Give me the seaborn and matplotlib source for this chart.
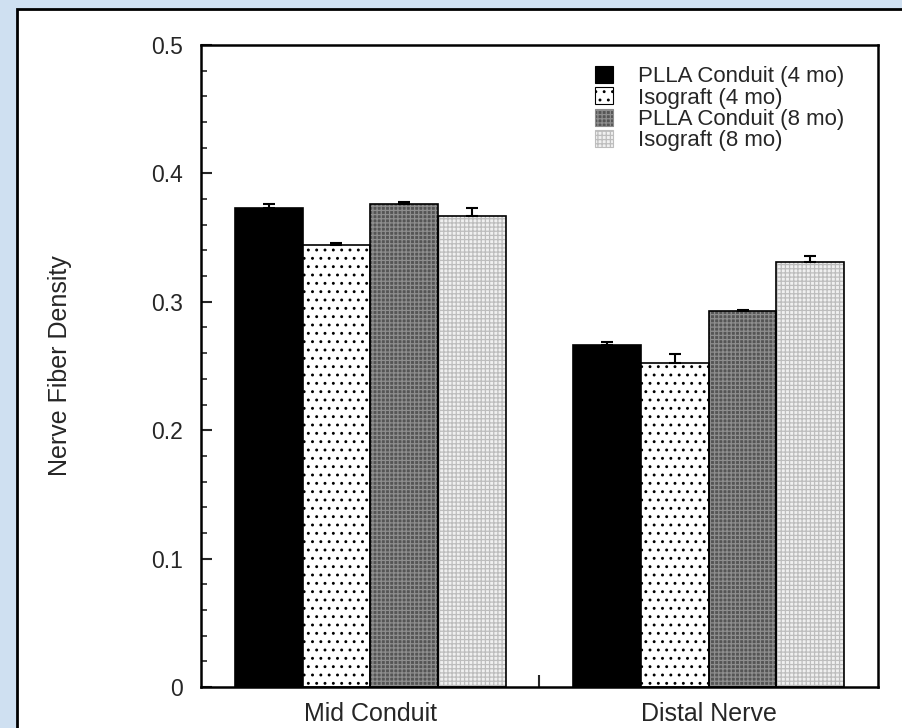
import matplotlib
matplotlib.use("Agg")
import matplotlib.pyplot as plt
import seaborn as sns
import pandas as pd
from matplotlib.patches import Rectangle, Patch
from matplotlib.container import BarContainer
from matplotlib.ticker import MultipleLocator

# ---- data ----
sites = ["Mid Conduit", "Distal Nerve"]
groups = ["PLLA Conduit (4 mo)", "Isograft (4 mo)", "PLLA Conduit (8 mo)", "Isograft (8 mo)"]
mid_vals = [0.373, 0.344, 0.376, 0.367]
distal_vals = [0.266, 0.252, 0.293, 0.331]
mid_err = [0.003, 0.002, 0.002, 0.006]
distal_err = [0.003, 0.007, 0.001, 0.005]
y_ticks = [0, 0.1, 0.2, 0.3, 0.4, 0.5]
y_tick_labels = ["0", "0.1", "0.2", "0.3", "0.4", "0.5"]

# ---- styles ----
face_colors = ["#000000", "#ffffff", "#555555", "#f0f0f0"]
hatches = [None, "..", "++++", "++++"]
hatch_colors = ["#000000", "#000000", "#8e8e8e", "#bdbdbd"]

sns.set_style("white")
plt.rcParams["font.family"] = ["Liberation Sans", "DejaVu Sans"]
plt.rcParams["hatch.linewidth"] = 0.9

rows = []
for site, vals, errs in zip(sites, [mid_vals, distal_vals], [mid_err, distal_err]):
    for g, v, e in zip(groups, vals, errs):
        rows.append({"site": site, "group": g, "value": v, "err": e})
df = pd.DataFrame(rows)

fig = plt.figure(figsize=(9.03, 7.28), dpi=100, facecolor="#cfe0f1")
panel = Rectangle((17 / 903, -0.05), 1.1, 1.05 - 9 / 728, transform=fig.transFigure,
                  facecolor="white", edgecolor="black", linewidth=2, zorder=-5)
fig.add_artist(panel)

ax = fig.add_axes([201 / 903, 41 / 728, 677 / 903, 642 / 728])
ax.set_facecolor("white")

sns.barplot(data=df, x="site", y="value", hue="group", order=sites, hue_order=groups,
            palette=face_colors, width=0.8, saturation=1, edgecolor="black",
            linewidth=1.2, legend=False, errorbar=None, ax=ax)

bar_containers = [c for c in ax.containers if isinstance(c, BarContainer)]
for gi, cont in enumerate(bar_containers):
    bars = sorted(cont.patches, key=lambda p: p.get_x())
    xs, ys, es = [], [], []
    for si, p in enumerate(bars):
        sub = df[(df.group == groups[gi]) & (df.site == sites[si])].iloc[0]
        if hatches[gi]:
            p.set_hatch(hatches[gi])
            p.set_edgecolor(hatch_colors[gi])
            p.set_linewidth(0)
            ax.add_patch(Rectangle((p.get_x(), p.get_y()), p.get_width(), p.get_height(),
                                   fill=False, edgecolor="black", linewidth=1.2, zorder=3))
        xs.append(p.get_x() + p.get_width() / 2)
        ys.append(sub.value)
        es.append(sub.err)
    ax.errorbar(xs, ys, yerr=[[0] * len(es), es], fmt="none", ecolor="black",
                elinewidth=1.5, capsize=4, capthick=1.5, zorder=4)

ax.set_xlim(-0.5, 1.5)
ax.set_ylim(0, 0.5)
ax.set_yticks(y_ticks)
ax.set_yticklabels(y_tick_labels)
ax.yaxis.set_minor_locator(MultipleLocator(0.02))
ax.set_xticks([0.5], minor=True)
ax.tick_params(axis="y", which="major", direction="in", length=8, width=1.5,
               labelsize=16.5, pad=13, left=True)
ax.tick_params(axis="y", which="minor", direction="in", length=4, width=1.2, left=True)
ax.tick_params(axis="x", which="major", length=0, labelsize=18, pad=10.5)
ax.tick_params(axis="x", which="minor", direction="in", length=9, width=1.5, bottom=True)
ax.set_xlabel("")
ax.set_ylabel("Nerve Fiber Density", fontsize=18)
ax.yaxis.set_label_coords(-0.19, 0.5)

for s in ax.spines.values():
    s.set_visible(True)
    s.set_color("black")
    s.set_linewidth(1.8)

handles = [Patch(facecolor=fc, hatch=h, edgecolor=hc, linewidth=0.8)
           for fc, h, hc in zip(face_colors, hatches, hatch_colors)]
leg = ax.legend(handles, groups, loc="upper left", bbox_to_anchor=(0.582, 0.967),
                frameon=False, fontsize=16, handlelength=0.8, handleheight=0.8,
                handletextpad=1.15, labelspacing=0.0, borderpad=0, borderaxespad=0)

fig.savefig("out.png", dpi=100, facecolor=fig.get_facecolor())
